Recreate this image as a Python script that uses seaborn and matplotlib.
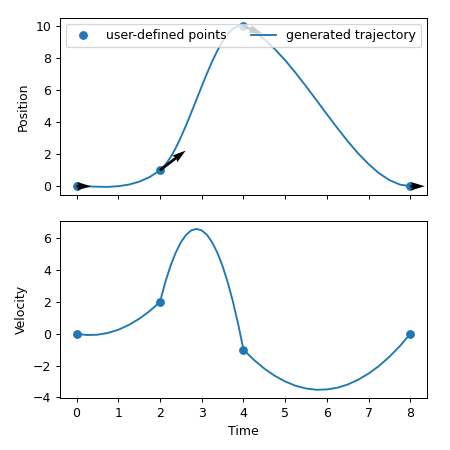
import numpy as np
import pandas as pd
import matplotlib
matplotlib.use('Agg')
import matplotlib.pyplot as plt
import seaborn as sns

# user-defined waypoints
point_time = [0, 2, 4, 8]
point_pos = [0, 1, 10, 0]
point_vel = [0, 2, -1, 0]

# generated trajectory
traj_time = [0, 0.25, 0.5, 0.75, 1, 1.25, 1.5, 1.75, 2,
             2.125, 2.25, 2.375, 2.5, 2.625, 2.75, 2.875, 3,
             3.125, 3.25, 3.375, 3.5, 3.625, 3.75, 3.875, 4,
             4.25, 4.5, 4.75, 5, 5.25, 5.5, 5.75, 6,
             6.25, 6.5, 6.75, 7, 7.25, 7.5, 7.75, 8]
traj_pos = [0.00, -0.01, -0.03, -0.04, 0.00, 0.10, 0.28, 0.57, 1.00,
            1.33, 1.80, 2.38, 3.06, 3.81, 4.61, 5.43, 6.25,
            7.05, 7.80, 8.48, 9.06, 9.53, 9.86, 10.02, 10.00,
            9.67, 9.19, 8.58, 7.88, 7.09, 6.25, 5.38, 4.50,
            3.64, 2.81, 2.05, 1.38, 0.81, 0.38, 0.10, 0.00]
traj_vel = [0.00, -0.08, -0.06, 0.05, 0.25, 0.55, 0.94, 1.42, 2.00,
            3.22, 4.25, 5.09, 5.75, 6.22, 6.50, 6.59, 6.50,
            6.22, 5.75, 5.09, 4.25, 3.22, 2.00, 0.59, -1.00,
            -1.64, -2.19, -2.64, -3.00, -3.27, -3.44, -3.52, -3.50,
            -3.39, -3.19, -2.89, -2.50, -2.02, -1.44, -0.77, 0.00]

time_ticks = [0, 1, 2, 3, 4, 5, 6, 7, 8]

points = pd.DataFrame({'time': point_time, 'pos': point_pos, 'vel': point_vel})
traj = pd.DataFrame({'time': traj_time, 'pos': traj_pos, 'vel': traj_vel})

fig, (ax1, ax2) = plt.subplots(2, 1, figsize=(5, 5), dpi=90, sharex=True)
fig.subplots_adjust(left=0.133, right=0.949, top=0.96, bottom=0.116, hspace=0.147)

point_kws = dict(marker='o', linestyle='', color='C0', markersize=6,
                 markeredgecolor='C0', markeredgewidth=1)

sns.lineplot(data=points, x='time', y='pos', label='user-defined points',
             ax=ax1, **point_kws)
sns.lineplot(data=traj, x='time', y='pos', color='C0',
             label='generated trajectory', ax=ax1)
ax1.quiver(points['time'], points['pos'], np.ones(len(points)), points['vel'],
           angles='xy', color='black', zorder=3)
ax1.set_xlabel('')
ax1.set_ylabel('Position')
ax1.legend(ncol=2, loc='upper center')

sns.lineplot(data=points, x='time', y='vel', ax=ax2, **point_kws)
sns.lineplot(data=traj, x='time', y='vel', color='C0', ax=ax2)
ax2.set_xticks(time_ticks)
ax2.set_xlabel('Time')
ax2.set_ylabel('Velocity')

plt.savefig('out.png')
